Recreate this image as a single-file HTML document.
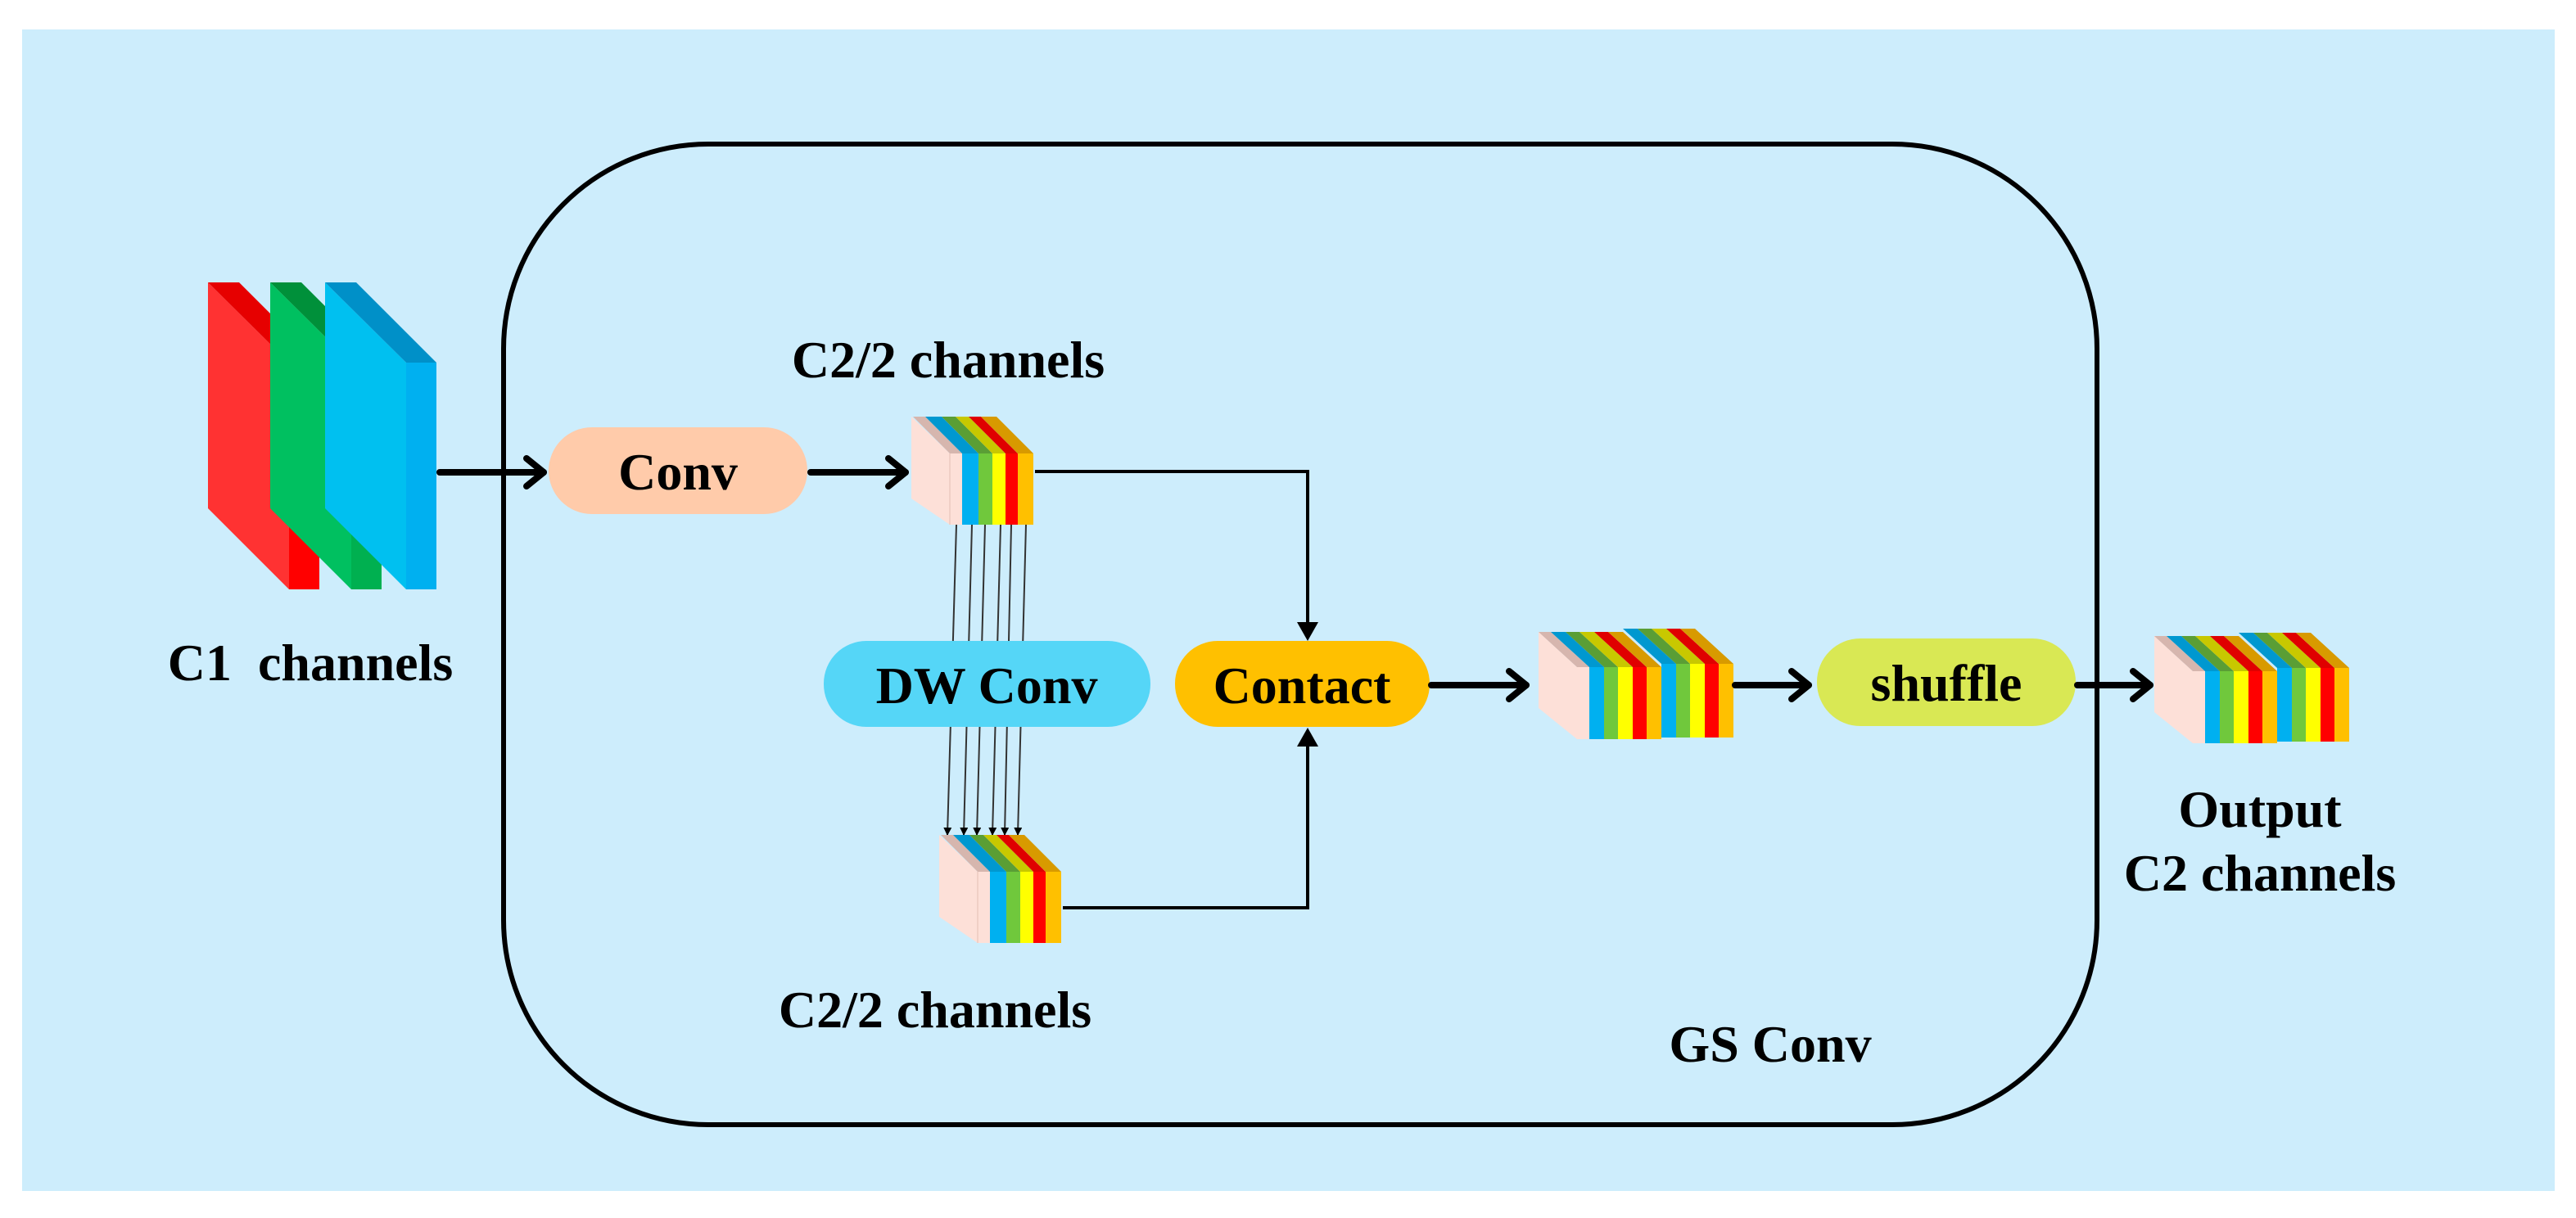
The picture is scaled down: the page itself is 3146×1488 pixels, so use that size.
<!DOCTYPE html>
<html><head><meta charset="utf-8"><style>
html,body{margin:0;padding:0;background:#fff;}
svg{display:block;}
</style></head><body>
<svg width="3146" height="1488" viewBox="0 0 3146 1488" xmlns="http://www.w3.org/2000/svg">
<defs>
<g id="s6">
  <polygon points="-47,-45 0,0 0,87 -47,55" fill="#fde0d8"/>
  <polygon points="0,0 15,0 -30,-45 -45,-45" fill="#d6b6ae"/>
  <rect x="0" y="0" width="15" height="87" fill="#fde0d8"/>
  <line x1="0" y1="0" x2="0" y2="87" stroke="#f0cfc6" stroke-width="2"/>
  <polygon points="15,0 35,0 -10,-45 -30,-45" fill="#0098d0"/><rect x="15" y="0" width="20" height="87" fill="#00b0f0"/>
  <polygon points="35,0 52,0 7,-45 -10,-45" fill="#5a9e35"/><rect x="35" y="0" width="17" height="87" fill="#70c83c"/>
  <polygon points="52,0 68,0 23,-45 7,-45" fill="#c8c800"/><rect x="52" y="0" width="16" height="87" fill="#ffff00"/>
  <polygon points="68,0 83,0 38,-45 23,-45" fill="#e00000"/><rect x="68" y="0" width="15" height="87" fill="#ff0000"/>
  <polygon points="83,0 102,0 57,-45 38,-45" fill="#d89a00"/><rect x="83" y="0" width="19" height="87" fill="#ffc000"/>
</g>
<g id="s12">
  <polygon points="-47,-43 0,0 0,88 -47,50" fill="#fde0d8"/>
  <polygon points="0,0 15,0 -32,-43 -47,-43" fill="#d6b6ae"/>
  <rect x="0" y="0" width="15" height="88" fill="#fde0d8"/>
  <polygon points="15,0 33,0 -14,-43 -32,-43" fill="#0098d0"/><rect x="15" y="0" width="18" height="88" fill="#00b0f0"/>
  <polygon points="33,0 50,0 3,-43 -14,-43" fill="#5a9e35"/><rect x="33" y="0" width="17" height="88" fill="#70c83c"/>
  <polygon points="50,0 68,0 21,-43 3,-43" fill="#c8c800"/><rect x="50" y="0" width="18" height="88" fill="#ffff00"/>
  <polygon points="68,0 85,0 38,-43 21,-43" fill="#e00000"/><rect x="68" y="0" width="17" height="88" fill="#ff0000"/>
  <polygon points="85,0 103,0 56,-43 38,-43" fill="#d89a00"/><rect x="85" y="0" width="18" height="88" fill="#ffc000"/>
  <polygon points="103,-4 121,-4 74,-47 56,-47" fill="#0098d0"/><rect x="103" y="-4" width="18" height="90" fill="#00b0f0"/>
  <polygon points="121,-4 138,-4 91,-47 74,-47" fill="#5a9e35"/><rect x="121" y="-4" width="17" height="90" fill="#70c83c"/>
  <polygon points="138,-4 156,-4 109,-47 91,-47" fill="#c8c800"/><rect x="138" y="-4" width="18" height="90" fill="#ffff00"/>
  <polygon points="156,-4 173,-4 126,-47 109,-47" fill="#e00000"/><rect x="156" y="-4" width="17" height="90" fill="#ff0000"/>
  <polygon points="173,-4 191,-4 144,-47 126,-47" fill="#d89a00"/><rect x="173" y="-4" width="18" height="90" fill="#ffc000"/>
</g>
<marker id="ah" markerWidth="10" markerHeight="10" refX="9" refY="5" orient="auto" markerUnits="userSpaceOnUse" viewBox="0 0 10 10">
  <path d="M0,0 L10,5 L0,10 z" fill="#000"/>
</marker>
</defs>
<rect x="27" y="36" width="3093" height="1419" fill="#cdedfc"/>
<rect x="615" y="176" width="1946" height="1198" rx="250" ry="250" fill="none" stroke="#000" stroke-width="6"/>

<polygon points="254,345 353,443 353,720 254,621" fill="#ff3232"/>
<polygon points="254,345 292,345 390,443 353,443" fill="#e60000"/>
<rect x="353" y="443" width="37" height="277" fill="#ff0000"/>
<polygon points="330,345 429,443 429,720 330,621" fill="#00c060"/>
<polygon points="330,345 368,345 466,443 429,443" fill="#00903a"/>
<rect x="429" y="443" width="37" height="277" fill="#00b050"/>
<polygon points="397,345 496,443 496,720 397,621" fill="#00c0f0"/>
<polygon points="397,345 435,345 533,443 496,443" fill="#0090c8"/>
<rect x="496" y="443" width="37" height="277" fill="#00b0f0"/>

<g stroke="#333" stroke-width="2" marker-end="url(#ah)">
<line x1="1168" y1="641" x2="1157" y2="1020"/>
<line x1="1187" y1="641" x2="1177" y2="1020"/>
<line x1="1203" y1="641" x2="1193" y2="1020"/>
<line x1="1222" y1="641" x2="1212" y2="1020"/>
<line x1="1235" y1="641" x2="1227" y2="1020"/>
<line x1="1253" y1="641" x2="1243" y2="1020"/>
</g>

<rect x="670" y="522" width="316" height="106" rx="53" fill="#ffcbaa"/>
<rect x="1006" y="783" width="399" height="105" rx="52" fill="#55d6f7"/>
<rect x="1435" y="783" width="311" height="105" rx="52" fill="#ffc000"/>
<rect x="2219" y="780" width="316" height="107" rx="53" fill="#d9e854"/>

<use href="#s6" x="1160" y="554"/>
<use href="#s6" x="1194" y="1065"/>
<use href="#s12" x="1926" y="815"/>
<use href="#s12" x="2678" y="820"/>

<polyline points="1264,576 1597,576 1597,764" fill="none" stroke="#000" stroke-width="4"/>
<polygon points="1584,760 1610,760 1597,783" fill="#000"/>
<polyline points="1298,1109 1597,1109 1597,910" fill="none" stroke="#000" stroke-width="4"/>
<polygon points="1584,912 1610,912 1597,889" fill="#000"/>

<g stroke="#000" stroke-width="8" fill="none" stroke-linejoin="round" stroke-linecap="round">
<line x1="537" y1="577" x2="664" y2="577"/><polyline points="643,560 664,577 643,594"/>
<line x1="990" y1="577" x2="1106" y2="577"/><polyline points="1085,560 1106,577 1085,594"/>
<line x1="1748" y1="837" x2="1864" y2="837"/><polyline points="1843,820 1864,837 1843,854"/>
<line x1="2119" y1="837" x2="2209" y2="837"/><polyline points="2188,820 2209,837 2188,854"/>
<line x1="2537" y1="837" x2="2626" y2="837"/><polyline points="2605,820 2626,837 2605,854"/>
</g>

<g font-family="Liberation Serif, Times New Roman, serif" font-weight="bold" font-size="64" fill="#000">
<text x="828" y="598" text-anchor="middle">Conv</text>
<text x="1205" y="859" text-anchor="middle">DW Conv</text>
<text x="1590" y="859" text-anchor="middle">Contact</text>
<text x="2377" y="856" text-anchor="middle">shuffle</text>
<text x="1158" y="461" text-anchor="middle">C2/2 channels</text>
<text x="1142" y="1255" text-anchor="middle">C2/2 channels</text>
<text x="379" y="831" text-anchor="middle" xml:space="preserve">C1  channels</text>
<text x="2162" y="1297" text-anchor="middle">GS Conv</text>
<text x="2760" y="1010" text-anchor="middle">Output</text>
<text x="2760" y="1088" text-anchor="middle">C2 channels</text>
</g>
</svg>
</body></html>
